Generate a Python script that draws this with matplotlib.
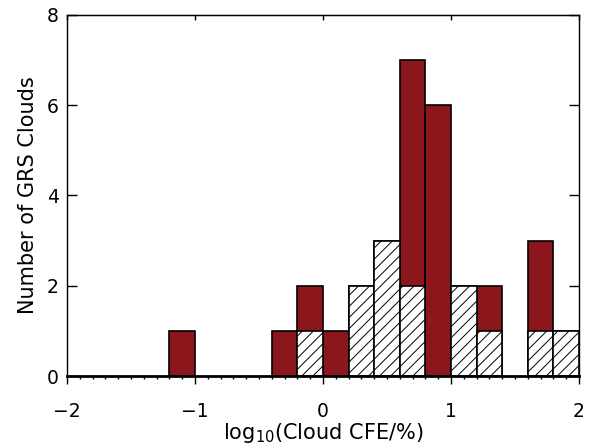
import numpy as np
import matplotlib
matplotlib.use("Agg")
import matplotlib.pyplot as plt

# histogram data, bins of 0.2 in log10(CFE)
bin_left = np.arange(-2.0, 2.0, 0.2)
all_counts = [0, 0, 0, 0, 1, 0, 0, 0, 1, 2, 1, 2, 3, 7, 6, 2, 2, 0, 3, 1]
sub_counts = [0, 0, 0, 0, 0, 0, 0, 0, 0, 1, 0, 2, 3, 2, 0, 2, 1, 0, 1, 1]

plt.rcParams["font.family"] = ["DejaVu Sans"]
plt.rcParams["mathtext.fontset"] = "dejavusans"
plt.rcParams["hatch.linewidth"] = 0.7

fig = plt.figure(figsize=(5.9, 4.48), dpi=100)
ax = fig.add_axes([67 / 590, 1 - 376 / 448, 512 / 590, 361 / 448])

# filled red histogram (all clouds)
for x, n in zip(bin_left, all_counts):
    if n > 0:
        ax.bar(x, n, width=0.2, align="edge", color="#8b171c",
               edgecolor="black", linewidth=1.2, zorder=2)

# hatched histogram on top (subset)
for x, n in zip(bin_left, sub_counts):
    if n > 0:
        ax.bar(x, n, width=0.2, align="edge", facecolor="white",
               edgecolor="black", hatch="///", linewidth=1.2, zorder=3)

ax.set_xlim(-2, 2)
ax.set_ylim(0, 8)

for side in ["left", "right", "top"]:
    ax.spines[side].set_linewidth(1.0)
ax.spines["bottom"].set_linewidth(2.0)
ax.spines["bottom"].set_zorder(5)

ax.set_xticks([-2, -1, 0, 1, 2])
ax.set_xticklabels(["\u22122", "\u22121", "0", "1", "2"])
ax.set_xticks(np.arange(-2, 2.01, 0.1), minor=True)
ax.tick_params(axis="x", which="major", direction="out", length=6,
               width=1.0, labelsize=13.5, pad=13)
ax.tick_params(axis="x", which="minor", direction="out", length=2.5,
               width=1.0)

ax.set_yticks([0, 2, 4, 6, 8])
ax.tick_params(axis="y", which="major", direction="in", length=7,
               width=1.0, labelsize=13.5, left=True, right=True, pad=6)

# top axis: short inward major ticks, no labels
top = ax.secondary_xaxis("top")
top.set_xticks([-2, -1, 0, 1, 2])
top.tick_params(direction="in", length=3.5, width=1.0, labeltop=False)

ax.set_xlabel("log$_{10}$(Cloud CFE/%)", fontsize=15, labelpad=0)
ax.set_ylabel("Number of GRS Clouds", fontsize=15, labelpad=6)

fig.savefig("out.png", dpi=100)
